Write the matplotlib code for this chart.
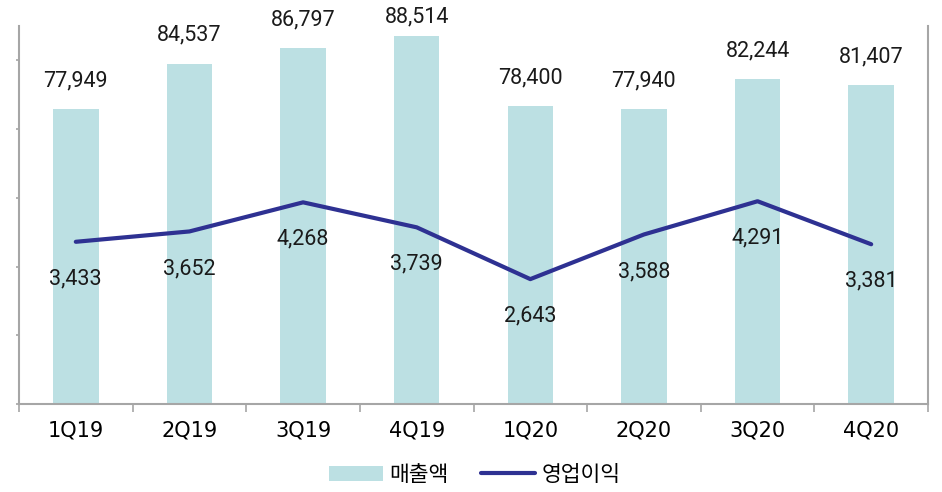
import matplotlib
matplotlib.use("Agg")
import matplotlib.pyplot as plt
from matplotlib.patches import Patch
from matplotlib.lines import Line2D

# quarterly figures
quarters = ["1Q19", "2Q19", "3Q19", "4Q19", "1Q20", "2Q20", "3Q20", "4Q20"]
sales = [77949, 84537, 86797, 88514, 78400, 77940, 82244, 81407]
op_profit = [3433, 3652, 4268, 3739, 2643, 3588, 4291, 3381]

bar_color = "#bce0e3"
line_color = "#2e3192"
spine_color = "#a6a6a6"
text_color = "#1a1a1a"
num_font = ["Roboto", "Noto Sans CJK KR"]

plt.rcParams["font.family"] = ["DejaVu Sans", "Noto Sans CJK KR"]

fig = plt.figure(figsize=(9.42, 4.92), dpi=100)
ax = fig.add_axes([19 / 942, 88 / 492, 909 / 942, 378 / 492])
ax2 = ax.twinx()

x = list(range(len(quarters)))
ax.bar(x, sales, width=0.4, color=bar_color, zorder=1)
ax.set_ylim(35000, 90000)
ax.set_xlim(-0.5, len(quarters) - 0.5)
ax.set_yticks(range(35000, 90001, 10000))
ax.set_yticklabels([])
ax.tick_params(axis="y", direction="out", length=2, width=1.2, color=spine_color)

ax.set_xticks([i - 0.5 for i in range(len(quarters) + 1)])
ax.set_xticklabels([])
ax.set_xticks(x, minor=True)
ax.set_xticklabels(quarters, minor=True, fontsize=15, color="black")
ax.tick_params(axis="x", which="major", direction="out", length=6, width=1.2, color=spine_color)
ax.tick_params(axis="x", which="minor", length=0, pad=12)

for sp in ["left", "bottom", "right"]:
    ax.spines[sp].set_color(spine_color)
    ax.spines[sp].set_linewidth(1.5)
ax.spines["top"].set_visible(False)
for sp in ax2.spines.values():
    sp.set_visible(False)

# bar value labels (kept inside the figure at the top)
for xi, v in zip(x, sales):
    y = min(v + 4100, 91300)
    ax.text(xi, y, f"{v:,}", ha="center", va="center", fontsize=15.5,
            color=text_color, family=num_font, clip_on=False)

ax2.plot(x, op_profit, color=line_color, linewidth=3, solid_capstyle="round", zorder=3)
ax2.set_ylim(0, 8000)
ax2.set_yticks([])
for xi, v in zip(x, op_profit):
    ax2.annotate(f"{v:,}", (xi, v), xytext=(0, -37), textcoords="offset pixels",
                 ha="center", va="center", fontsize=15.5, color=text_color,
                 family=num_font)

handles = [Patch(facecolor=bar_color, edgecolor="none"),
           Line2D([0], [0], color=line_color, linewidth=3, solid_capstyle="round")]
fig.legend(handles, ["매출액", "영업이익"], loc="center", bbox_to_anchor=(0.504, 0.035),
           ncol=2, frameon=False, handlelength=2.5, handleheight=0.7,
           handletextpad=0.3, columnspacing=1.5,
           prop={"family": ["Noto Sans CJK KR"], "size": 15.5})

fig.savefig("out.png", dpi=100)
